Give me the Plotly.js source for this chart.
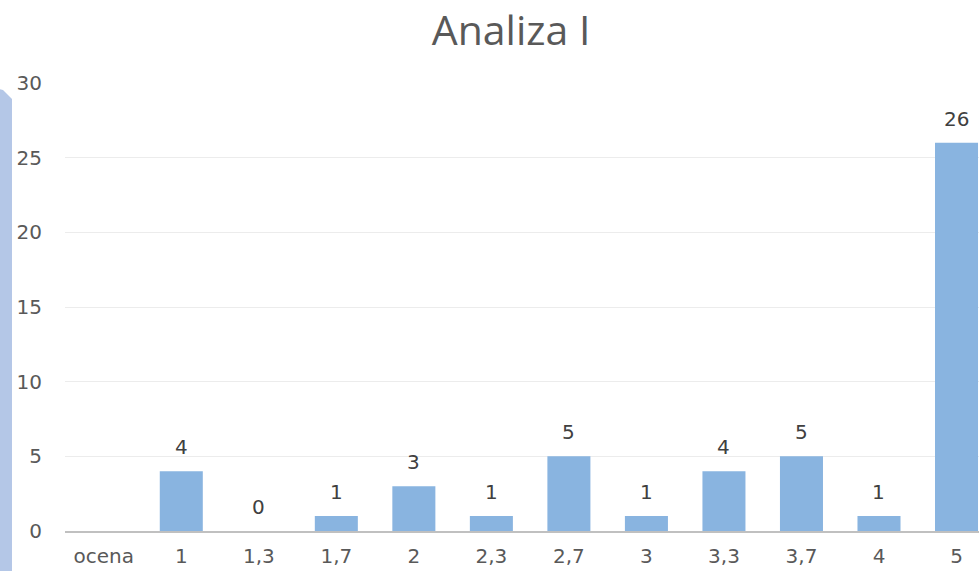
<!DOCTYPE html>
<html>
<head>
<meta charset="utf-8">
<script src="https://cdn.plot.ly/plotly-3.0.1.min.js"></script>
<style>html,body{margin:0;padding:0;background:#fff;}#chart{width:979px;height:571px;}</style>
</head>
<body>
<div id="chart"></div>
<script>
var categories = ["ocena", "1", "1,3", "1,7", "2", "2,3", "2,7", "3", "3,3", "3,7", "4", "5"];
var counts = [null, 4, 0, 1, 3, 1, 5, 1, 4, 5, 1, 26];
var yTicks = [0, 5, 10, 15, 20, 25, 30];
var chartTitle = "Analiza I";

var trace = {
  type: 'bar',
  x: categories,
  y: counts,
  marker: {color: '#89b4e0'},
  hoverinfo: 'none'
};

var labelAnnotations = [];
categories.forEach(function(c, i){
  if (counts[i] === null) return;
  labelAnnotations.push({
    x: i, y: counts[i], xref: 'x', yref: 'y',
    text: String(counts[i]), showarrow: false,
    yanchor: 'middle', yshift: 24,
    font: {family: 'DejaVu Sans', size: 20, color: '#404040'}
  });
});

var layout = {
  width: 979, height: 571,
  margin: {l: 65, r: 0, t: 83, b: 40},
  paper_bgcolor: '#ffffff', plot_bgcolor: '#ffffff',
  title: {text: chartTitle, x: 0.522, xanchor: 'center', y: 0.947, yanchor: 'middle',
    font: {family: 'Open Sans', size: 41, color: '#595959'}},
  bargap: 0.445,
  showlegend: false,
  xaxis: {
    type: 'category',
    range: [-0.5, 11.29],
    showgrid: false, zeroline: false,
    showline: true, linecolor: '#c0c0c0', linewidth: 2,
    ticks: 'outside', ticklen: 6, tickcolor: 'rgba(0,0,0,0)',
    tickfont: {family: 'DejaVu Sans', size: 20, color: '#595959'},
    fixedrange: true
  },
  yaxis: {
    range: [0, 30],
    tickvals: yTicks,
    ticktext: yTicks.map(String),
    showgrid: true, gridcolor: '#ececec', gridwidth: 1,
    zeroline: false, showline: false,
    ticks: 'outside', ticklen: 18, tickcolor: 'rgba(0,0,0,0)',
    tickfont: {family: 'DejaVu Sans', size: 20, color: '#595959'},
    fixedrange: true
  },
  annotations: labelAnnotations,
  shapes: [{
    type: 'path', xref: 'paper', yref: 'paper',
    path: 'M -0.0766,-0.11 L -0.0766,0.9888 L -0.0678,0.9844 L -0.0580,0.9643 L -0.0580,-0.11 Z',
    fillcolor: '#b4c7e7', line: {width: 0}, layer: 'below'
  }]
};

Plotly.newPlot('chart', [trace], layout, {displayModeBar: false, staticPlot: true});
</script>
</body>
</html>
